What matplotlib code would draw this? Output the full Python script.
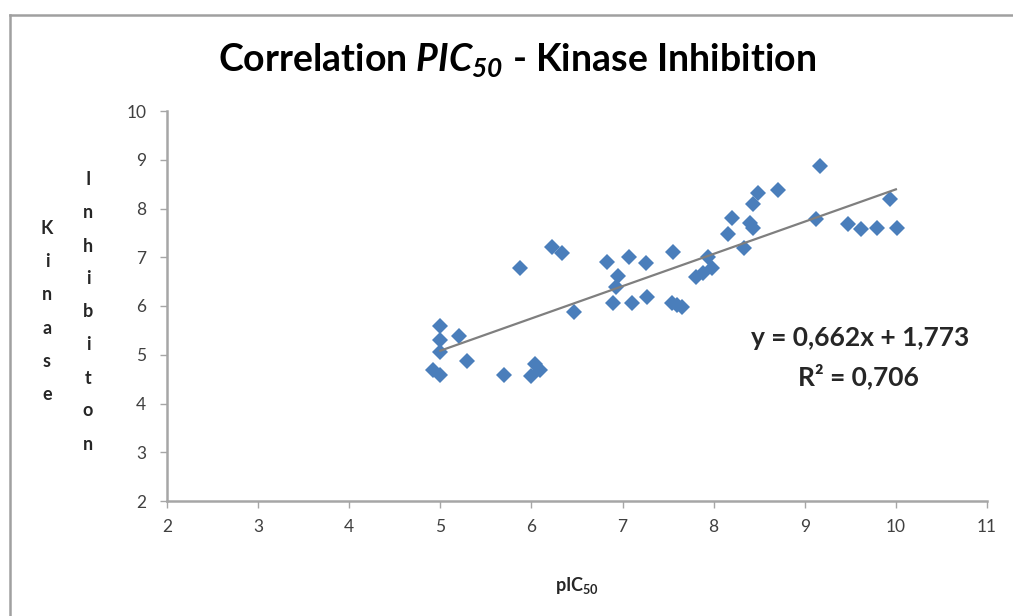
import numpy as np
import matplotlib.pyplot as plt
from matplotlib.lines import Line2D

# pIC50 vs kinase inhibition
pic50 = [5.00, 5.00, 5.00, 4.92, 5.00, 5.21, 5.29, 5.70, 5.87, 5.99, 6.04, 6.09,
         6.23, 6.34, 6.47, 6.83, 6.89, 6.95, 6.93, 7.07, 7.10, 7.26, 7.27, 7.55,
         7.54, 7.60, 7.65, 7.81, 7.88, 7.94, 7.98, 8.16, 8.20, 8.33, 8.40, 8.43,
         8.43, 8.49, 8.71, 9.12, 9.17, 9.47, 9.62, 9.79, 9.94, 10.01]
inhibition = [5.59, 5.30, 5.05, 4.69, 4.58, 5.39, 4.87, 4.58, 6.78, 4.56, 4.81, 4.69,
              7.21, 7.09, 5.88, 6.90, 6.06, 6.62, 6.39, 7.00, 6.06, 6.88, 6.18, 7.10,
              6.06, 6.02, 5.98, 6.60, 6.68, 7.00, 6.78, 7.48, 7.81, 7.19, 7.70, 7.60,
              8.09, 8.32, 8.38, 7.78, 8.87, 7.68, 7.58, 7.60, 8.19, 7.60]

slope, intercept = 0.662, 1.773
fit_x = [5.0, 10.0]

xticks = list(range(2, 12))
yticks = list(range(2, 11))

FONT = "Lato"
plt.rcParams["font.family"] = [FONT, "DejaVu Sans"]
plt.rcParams["mathtext.fontset"] = "custom"
plt.rcParams["mathtext.rm"] = FONT + ":italic:bold"
plt.rcParams["mathtext.it"] = FONT + ":italic:bold"
plt.rcParams["mathtext.bf"] = FONT + ":bold"

fig = plt.figure(figsize=(10.13, 6.16), dpi=100)
ax = fig.add_axes([167 / 1013, 1 - 501 / 616, 820 / 1013, 390 / 616])

ax.plot(pic50, inhibition, "D", color="#4a7ebb", markersize=8, markeredgewidth=0, zorder=3)
fx = np.array(fit_x)
ax.plot(fx, slope * fx + intercept, color="#7f7f7f", lw=1.6, zorder=4)

ax.set_xlim(2, 11)
ax.set_ylim(2, 10)
ax.set_xticks(xticks)
ax.set_yticks(yticks)
for s in ["top", "right"]:
    ax.spines[s].set_visible(False)
for s in ["left", "bottom"]:
    ax.spines[s].set_color("#a6a6a6")
    ax.spines[s].set_linewidth(1.8)
ax.tick_params(colors="#a6a6a6", labelcolor="#404040", labelsize=12.5, length=5, width=1)
ax.tick_params(axis="x", pad=8)
ax.tick_params(axis="y", pad=10)

fig.text(517 / 1013, 1 - 60 / 616, r"Correlation $\mathit{PIC_{50}}$ - Kinase Inhibition",
         ha="center", va="center", fontsize=27, fontweight="bold")

fig.text(577 / 1013, 1 - 585 / 616, r"pIC$_{\mathbf{50}}$", ha="center", va="center",
         fontsize=13, fontweight="bold", color="#262626")

# stacked y label
for i, ch in enumerate("Kinase"):
    fig.text(47 / 1013, 1 - (228 + i * 33.4) / 616, ch, ha="center", va="center",
             fontsize=13, fontweight="bold", color="#262626")
for i, ch in enumerate("Inhibiton"):
    fig.text(88 / 1013, 1 - (180 + i * 33) / 616, ch, ha="center", va="center",
             fontsize=13, fontweight="bold", color="#262626")

fig.text(860 / 1013, 1 - 338 / 616, "y = 0,662x + 1,773", ha="center", va="center",
         fontsize=19, fontweight="bold", color="#262626")
fig.text(858 / 1013, 1 - 376 / 616, "R² = 0,706", ha="center", va="center",
         fontsize=19, fontweight="bold", color="#262626")

# chart area frame (only top and left edges visible)
top = 1 - 15 / 616
left = 10 / 1013
fig.lines.append(Line2D([left, 1.0], [top, top], transform=fig.transFigure,
                        color="#a0a0a0", lw=1.8))
fig.lines.append(Line2D([left, left], [0.0, top], transform=fig.transFigure,
                        color="#a0a0a0", lw=1.8))

fig.savefig("out.png", dpi=100)
